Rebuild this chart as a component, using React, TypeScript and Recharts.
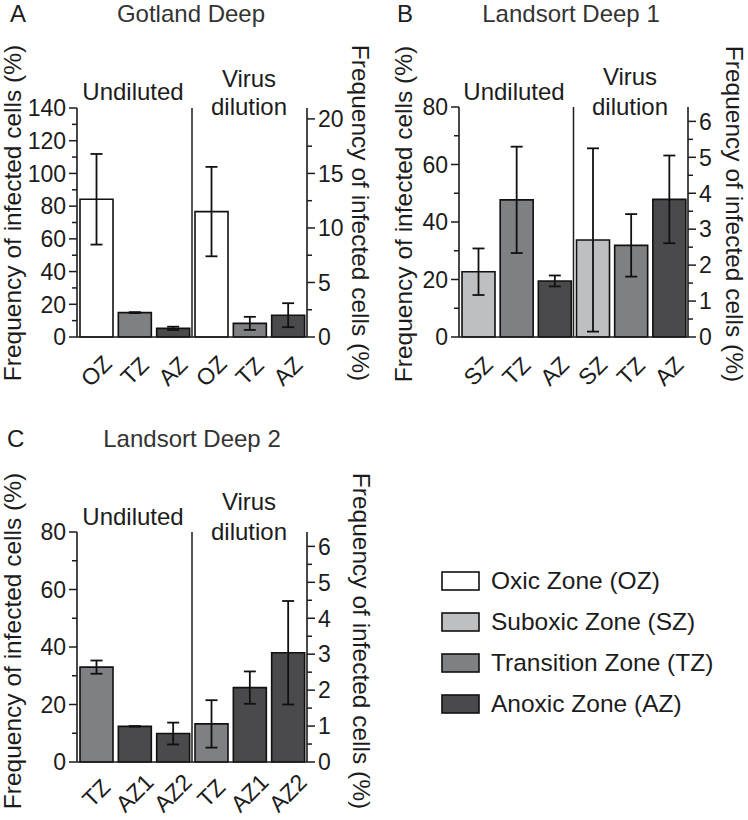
import React from 'react';
import { BarChart, Bar, XAxis, YAxis, Cell, ErrorBar, ReferenceLine } from 'recharts';

const FONT = '"Liberation Sans", Arial, Helvetica, sans-serif';
const INK = '#1c1c1c';

const zoneFill: Record<string, string> = {
  OZ: '#ffffff',
  SZ: '#bebfc1',
  TZ: '#7f8083',
  AZ: '#4a4a4c',
  AZ1: '#4a4a4c',
  AZ2: '#4a4a4c',
};

// A – Gotland Deep
const gotlandZones = ['OZ', 'TZ', 'AZ'];
const gotlandUndiluted = [84.2, 14.9, 5.3];
const gotlandUndilutedErr = [27.7, 0.3, 1.0];
const gotlandDilution = [11.5, 1.25, 2.0];
const gotlandDilutionErr = [4.1, 0.6, 1.1];
const gotlandLeftTicks = [0, 20, 40, 60, 80, 100, 120, 140];
const gotlandLeftMinor = [10, 30, 50, 70, 90, 110, 130];
const gotlandRightTicks = [0, 5, 10, 15, 20];
const gotlandRightMinor = [2.5, 7.5, 12.5, 17.5];

// B – Landsort Deep 1
const landsort1Zones = ['SZ', 'TZ', 'AZ'];
const landsort1Undiluted = [22.7, 47.7, 19.5];
const landsort1UndilutedErr = [8.1, 18.5, 1.9];
const landsort1Dilution = [2.7, 2.55, 3.83];
const landsort1DilutionErr = [2.55, 0.87, 1.22];

// C – Landsort Deep 2
const landsort2Zones = ['TZ', 'AZ1', 'AZ2'];
const landsort2Undiluted = [33.0, 12.4, 9.9];
const landsort2UndilutedErr = [2.3, 0.1, 3.8];
const landsort2Dilution = [1.06, 2.07, 3.04];
const landsort2DilutionErr = [0.66, 0.45, 1.44];

const landsortLeftTicks = [0, 20, 40, 60, 80];
const landsortLeftMinor = [10, 30, 50, 70];
const landsortRightTicks = [0, 1, 2, 3, 4, 5, 6];
const landsortRightMinor = [0.5, 1.5, 2.5, 3.5, 4.5, 5.5];

const legendZones = ['OZ', 'SZ', 'TZ', 'AZ'];
const legendLabels = ['Oxic Zone (OZ)', 'Suboxic Zone (SZ)', 'Transition Zone (TZ)', 'Anoxic Zone (AZ)'];

const AXIS_TITLE = 'Frequency of infected cells (%)';

function buildRows(zones: string[], und: number[], undErr: number[], dil: number[], dilErr: number[]) {
  return [
    ...zones.map((z, i) => ({ zone: z, undiluted: und[i], undilutedErr: undErr[i], dilution: null, dilutionErr: null })),
    ...zones.map((z, i) => ({ zone: z, undiluted: null, undilutedErr: null, dilution: dil[i], dilutionErr: dilErr[i] })),
  ];
}

function YTick(props: any) {
  const { x, y, payload, side, majors } = props;
  const v = payload.value;
  const isMajor = majors.includes(v);
  const dir = side === 'left' ? -1 : 1;
  const len = isMajor ? 8 : 5;
  return (
    <g>
      <line x1={x} x2={x + dir * len} y1={y} y2={y} stroke={INK} strokeWidth={1.5} />
      {isMajor && (
        <text
          x={x + dir * 11}
          y={y}
          dy="0.36em"
          textAnchor={side === 'left' ? 'end' : 'start'}
          fontSize={23}
          fontFamily={FONT}
          fill={INK}
        >
          {v}
        </text>
      )}
    </g>
  );
}

function XTick(props: any) {
  const { x, y, payload, drop } = props;
  return (
    <text
      transform={`translate(${x},${y + drop}) rotate(-45)`}
      textAnchor="middle"
      dominantBaseline="central"
      fontSize={23}
      fontFamily={FONT}
      fill={INK}
    >
      {payload.value}
    </text>
  );
}

function Panel(props: any) {
  const {
    left, top, width, height, margin, rows,
    leftDomain, rightDomain, leftMajor, leftMinor, rightMajor, rightMinor,
    drop, letter, letterX, title, titleX, textY,
    undX, undY, virusX, virusY, dilY, axisY, leftTitleX, rightTitleX,
  } = props;
  const txt = { fontFamily: FONT, fill: INK };
  // helper axis spanning the row indices, the divider sits halfway
  const lastRow = rows.length - 1;
  return (
    <div style={{ position: 'absolute', left, top, width, height }}>
      <BarChart width={width} height={height} data={rows} margin={margin}>
        <XAxis
          dataKey="zone"
          interval={0}
          tickLine={false}
          tickSize={0}
          tickMargin={0}
          height={50}
          axisLine={{ stroke: INK, strokeWidth: 1.6 }}
          tick={(p: any) => <XTick {...p} drop={drop} />}
        />
        <XAxis xAxisId="div" type="number" domain={[0, lastRow]} allowDataOverflow hide />
        <YAxis
          yAxisId="left"
          orientation="left"
          width={50}
          domain={leftDomain}
          ticks={[...leftMajor, ...leftMinor].sort((a, b) => a - b)}
          interval={0}
          tickLine={false}
          tickSize={0}
          tickMargin={0}
          axisLine={{ stroke: INK, strokeWidth: 1.6 }}
          tick={(p: any) => <YTick {...p} side="left" majors={leftMajor} />}
        />
        <YAxis
          yAxisId="right"
          orientation="right"
          width={50}
          domain={rightDomain}
          ticks={[...rightMajor, ...rightMinor].sort((a, b) => a - b)}
          interval={0}
          tickLine={false}
          tickSize={0}
          tickMargin={0}
          axisLine={{ stroke: INK, strokeWidth: 1.6 }}
          tick={(p: any) => <YTick {...p} side="right" majors={rightMajor} />}
        />
        <ReferenceLine xAxisId="div" yAxisId="left" x={lastRow / 2} stroke={INK} strokeWidth={1.5} />
        <Bar dataKey="undiluted" yAxisId="left" stackId="g" barSize={33} stroke="#111" strokeWidth={1.6} isAnimationActive={false}>
          {rows.map((r: any, i: number) => (
            <Cell key={i} fill={zoneFill[r.zone]} />
          ))}
          <ErrorBar dataKey="undilutedErr" direction="y" width={6} stroke="#111" strokeWidth={1.8} />
        </Bar>
        <Bar dataKey="dilution" yAxisId="right" stackId="g" barSize={33} stroke="#111" strokeWidth={1.6} isAnimationActive={false}>
          {rows.map((r: any, i: number) => (
            <Cell key={i} fill={zoneFill[r.zone]} />
          ))}
          <ErrorBar dataKey="dilutionErr" direction="y" width={6} stroke="#111" strokeWidth={1.8} />
        </Bar>
      </BarChart>
      <svg width={width} height={height} style={{ position: 'absolute', left: 0, top: 0, pointerEvents: 'none' }}>
        <text x={letterX} y={textY} fontSize={24} {...txt}>{letter}</text>
        <text x={titleX} y={textY} fontSize={24} textAnchor="middle" {...txt} fill="#333">{title}</text>
        <text x={undX} y={undY} fontSize={24} textAnchor="middle" {...txt}>Undiluted</text>
        <text x={virusX} y={virusY} fontSize={24} textAnchor="middle" {...txt}>Virus</text>
        <text x={virusX} y={dilY} fontSize={24} textAnchor="middle" {...txt}>dilution</text>
        <text transform={`translate(${leftTitleX},${axisY}) rotate(-90)`} fontSize={24.5} textAnchor="middle" {...txt}>
          {AXIS_TITLE}
        </text>
        <text transform={`translate(${rightTitleX},${axisY}) rotate(90)`} fontSize={24.5} textAnchor="middle" {...txt}>
          {AXIS_TITLE}
        </text>
      </svg>
    </div>
  );
}

function Legend() {
  return (
    <svg width={374} height={200} style={{ position: 'absolute', left: 374, top: 540 }}>
      {legendZones.map((z, i) => (
        <g key={z}>
          <rect x={68} y={32 + i * 41} width={37} height={18} fill={zoneFill[z]} stroke="#111" strokeWidth={1.6} />
          <text x={117} y={49 + i * 41} fontSize={24.5} fontFamily={FONT} fill={INK}>
            {legendLabels[i]}
          </text>
        </g>
      ))}
    </svg>
  );
}

export default function App() {
  return (
    <div style={{ position: 'absolute', left: 0, top: 0, width: 748, height: 820, background: '#fff', overflow: 'hidden' }}>
      <Panel
        left={0} top={0} width={374} height={400}
        margin={{ top: 108, left: 27, right: 17, bottom: 13 }}
        rows={buildRows(gotlandZones, gotlandUndiluted, gotlandUndilutedErr, gotlandDilution, gotlandDilutionErr)}
        leftDomain={[0, 140]} rightDomain={[0, 21]}
        leftMajor={gotlandLeftTicks} leftMinor={gotlandLeftMinor}
        rightMajor={gotlandRightTicks} rightMinor={gotlandRightMinor}
        drop={34}
        letter="A" letterX={10} title="Gotland Deep" titleX={191} textY={22}
        undX={133} undY={100} virusX={249} virusY={87} dilY={115}
        axisY={213} leftTitleX={20.5} rightTitleX={352}
      />
      <Panel
        left={374} top={0} width={374} height={400}
        margin={{ top: 107, left: 35, right: 10, bottom: 13 }}
        rows={buildRows(landsort1Zones, landsort1Undiluted, landsort1UndilutedErr, landsort1Dilution, landsort1DilutionErr)}
        leftDomain={[0, 80]} rightDomain={[0, 6.4]}
        leftMajor={landsortLeftTicks} leftMinor={landsortLeftMinor}
        rightMajor={landsortRightTicks} rightMinor={landsortRightMinor}
        drop={34}
        letter="B" letterX={23} title="Landsort Deep 1" titleX={197} textY={22}
        undX={140} undY={100} virusX={256} virusY={85} dilY={115}
        axisY={214} leftTitleX={38} rightTitleX={352}
      />
      <Panel
        left={0} top={400} width={374} height={420}
        margin={{ top: 132, left: 27, right: 17, bottom: 8 }}
        rows={buildRows(landsort2Zones, landsort2Undiluted, landsort2UndilutedErr, landsort2Dilution, landsort2DilutionErr)}
        leftDomain={[0, 80]} rightDomain={[0, 6.4]}
        leftMajor={landsortLeftTicks} leftMinor={landsortLeftMinor}
        rightMajor={landsortRightTicks} rightMinor={landsortRightMinor}
        drop={31}
        letter="C" letterX={7} title="Landsort Deep 2" titleX={192} textY={47}
        undX={133} undY={125} virusX={249} virusY={110} dilY={140}
        axisY={241} leftTitleX={20.5} rightTitleX={353}
      />
      <Legend />
    </div>
  );
}
